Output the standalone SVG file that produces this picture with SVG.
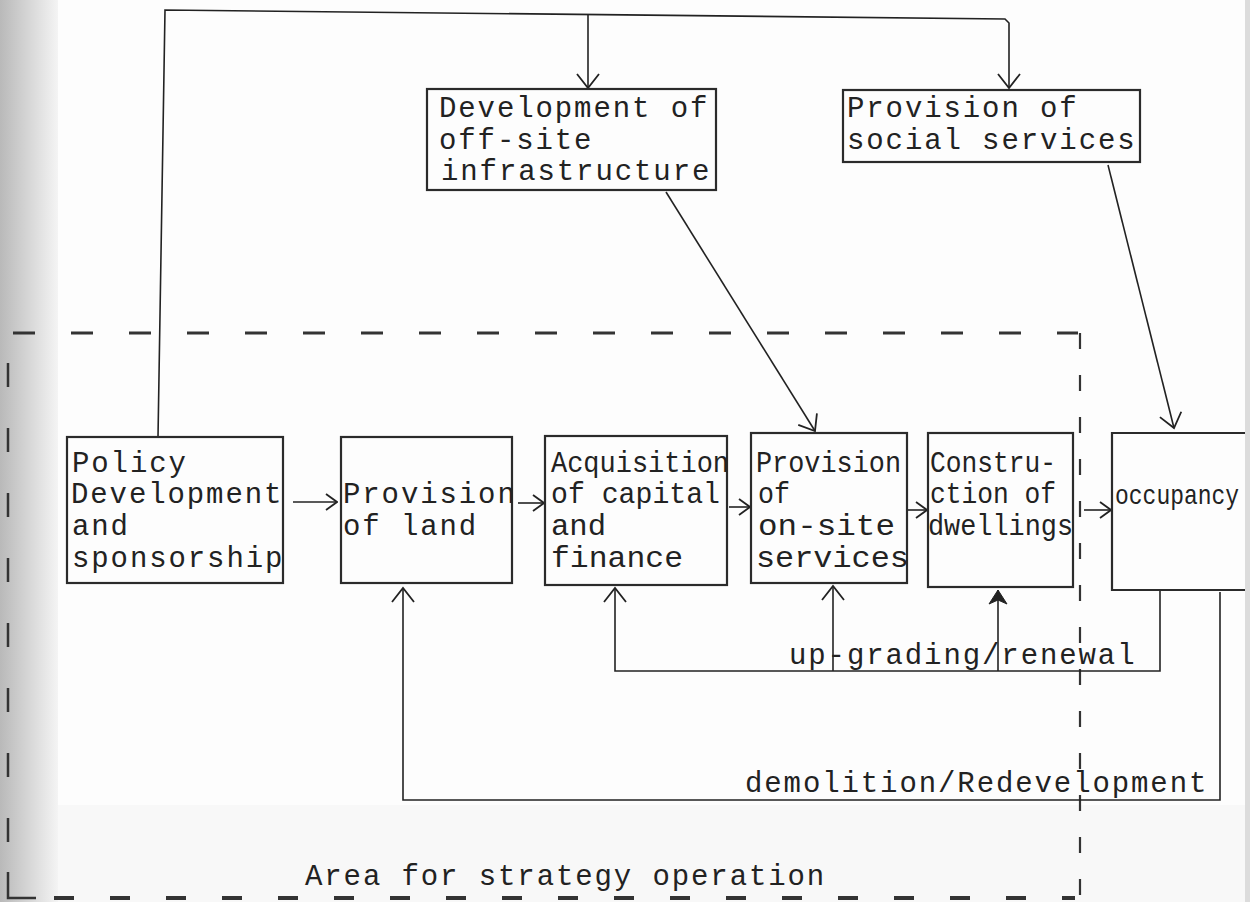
<svg xmlns="http://www.w3.org/2000/svg" width="1250" height="902" viewBox="0 0 1250 902">
<defs>
<linearGradient id="leftShade" x1="0" y1="0" x2="1" y2="0">
<stop offset="0" stop-color="#b9b9b9"/>
<stop offset="1" stop-color="#f4f4f4"/>
</linearGradient>
<marker id="ah" viewBox="-2 -13 18 26" refX="14" refY="0" markerWidth="18" markerHeight="26" markerUnits="userSpaceOnUse" orient="auto">
<path d="M0,-11 L14,0 L0,11" fill="none" stroke="#222" stroke-width="1.8"/>
</marker>
<marker id="ahs" viewBox="-2 -10 14 20" refX="11" refY="0" markerWidth="14" markerHeight="20" markerUnits="userSpaceOnUse" orient="auto">
<path d="M0,-8 L11,0 L0,8" fill="none" stroke="#222" stroke-width="1.8"/>
</marker>
<marker id="ahf" viewBox="-2 -11 18 22" refX="14" refY="0" markerWidth="18" markerHeight="22" markerUnits="userSpaceOnUse" orient="auto">
<path d="M0,-9 L14,0 L0,9 L4,0 Z" fill="#222" stroke="#222" stroke-width="1"/>
</marker>
<style>
.box{fill:none;stroke:#2b2b2b;stroke-width:2.2}
.t{font-family:"Liberation Mono","DejaVu Sans Mono",monospace;font-size:29px;fill:#222;letter-spacing:1.9px}
.tn{font-family:"Liberation Mono","DejaVu Sans Mono",monospace;font-size:29px;fill:#222}
.c{fill:none;stroke:#222;stroke-width:1.6}
.dh{fill:none;stroke:#333;stroke-width:3;stroke-dasharray:22 36}
.dv{fill:none;stroke:#333;stroke-width:2.2;stroke-dasharray:16 26}
.dl{fill:none;stroke:#333;stroke-width:2.5;stroke-dasharray:24 41}
.db{fill:none;stroke:#333;stroke-width:4;stroke-dasharray:20 36}
</style>
</defs>

<rect x="0" y="0" width="1250" height="902" fill="#f8f8f8"/>
<rect x="57" y="0" width="1188" height="805" fill="#fdfdfd"/>
<rect x="0" y="0" width="58" height="902" fill="url(#leftShade)"/>

<g id="strategy-area">
<path class="dh" d="M13,333 H1078"/>
<path class="dv" d="M1080,333 V902"/>
<path class="dl" d="M8,363 V848"/>
<path fill="none" stroke="#333" stroke-width="2.5" d="M8,872 V898 H36"/>
<path class="db" d="M54,898 H1075"/>
<text id="area-label" class="t" x="305" y="885">Area for strategy operation</text>
</g>

<g id="connectors">
<path class="c" d="M158,437 L165,10 L1005,19 L1009,23 L1009,88" marker-end="url(#ah)"/>
<path class="c" d="M588,14 L588,88" marker-end="url(#ah)"/>
<path class="c" d="M666,192 L815,431" marker-end="url(#ah)"/>
<path class="c" d="M1108,165 L1174,428" marker-end="url(#ah)"/>
<path class="c" d="M293,502 L337,502" marker-end="url(#ahs)"/>
<path class="c" d="M518,503 L544,503" marker-end="url(#ahs)"/>
<path class="c" d="M729,507 L750,507" marker-end="url(#ahs)"/>
<path class="c" d="M908,510 L927,510" marker-end="url(#ahs)"/>
<path class="c" d="M1084,510 L1111,510" marker-end="url(#ahs)"/>
<path class="c" d="M1160,591 L1160,671 L615,671 L615,588" marker-end="url(#ah)"/>
<path class="c" d="M833,671 L833,586" marker-end="url(#ah)"/>
<path class="c" d="M998,671 L998,590" marker-end="url(#ahf)"/>
<path class="c" d="M1220,592 L1220,800 L403,800 L403,588" marker-end="url(#ah)"/>
<text id="upgrading-label" class="t" x="789" y="664">up-grading/renewal</text>
<text id="demolition-label" class="t" x="745" y="792">demolition/Redevelopment</text>
</g>

<g id="offsite-infrastructure">
<rect class="box" x="427" y="89" width="289" height="101"/>
<text class="t" x="439" y="117">Development of</text>
<text class="t" x="439" y="149">off-site</text>
<text class="t" x="441" y="180">infrastructure</text>
</g>

<g id="social-services">
<rect class="box" x="843" y="90" width="297" height="72"/>
<text class="t" x="847" y="117">Provision of</text>
<text class="t" x="847" y="149">social services</text>
</g>

<g id="policy">
<rect class="box" x="67" y="437" width="216" height="146"/>
<text class="t" x="72" y="472">Policy</text>
<text class="t" x="71" y="503">Development</text>
<text class="t" x="72" y="535">and</text>
<text class="t" x="72" y="567">sponsorship</text>
</g>

<g id="land">
<rect class="box" x="341" y="437" width="171" height="146"/>
<text class="t" x="343" y="503">Provision</text>
<text class="t" x="343" y="535">of land</text>
</g>

<g id="capital">
<rect class="box" x="545" y="436" width="182" height="149"/>
<text class="tn" x="551" y="472" textLength="178" lengthAdjust="spacingAndGlyphs">Acquisition</text>
<text class="tn" x="551" y="503" textLength="169" lengthAdjust="spacingAndGlyphs">of capital</text>
<text class="tn" x="551" y="535" textLength="55" lengthAdjust="spacingAndGlyphs">and</text>
<text class="tn" x="551" y="567" textLength="132" lengthAdjust="spacingAndGlyphs">finance</text>
</g>

<g id="onsite-services">
<rect class="box" x="751" y="433" width="156" height="150"/>
<text class="tn" x="756" y="472" textLength="145" lengthAdjust="spacingAndGlyphs">Provision</text>
<text class="tn" x="758" y="503" textLength="32" lengthAdjust="spacingAndGlyphs">of</text>
<text class="tn" x="758" y="535" textLength="137" lengthAdjust="spacingAndGlyphs">on-site</text>
<text class="tn" x="756" y="567" textLength="153" lengthAdjust="spacingAndGlyphs">services</text>
</g>

<g id="construction">
<rect class="box" x="928" y="433" width="145" height="154"/>
<text class="tn" x="930" y="472" textLength="126" lengthAdjust="spacingAndGlyphs">Constru-</text>
<text class="tn" x="930" y="503" textLength="126" lengthAdjust="spacingAndGlyphs">ction of</text>
<text class="tn" x="928" y="535" textLength="145" lengthAdjust="spacingAndGlyphs">dwellings</text>
</g>

<g id="occupancy">
<path class="box" d="M1250,433 H1112 V590 H1250"/>
<text font-family="Liberation Mono, DejaVu Sans Mono, monospace" font-size="23" fill="#222" transform="translate(1115,504) scale(1,1.22)" x="0" y="0">occupancy</text>
</g>

<rect x="1245" y="0" width="5" height="902" fill="#dcdcdc"/>
</svg>
